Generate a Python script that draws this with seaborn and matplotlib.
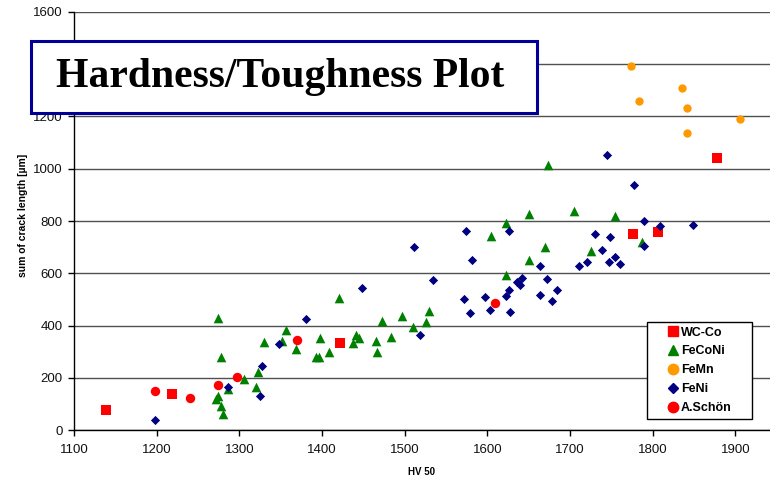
import matplotlib
matplotlib.use('Agg')
import matplotlib.pyplot as plt
from matplotlib.patches import Rectangle
from matplotlib.lines import Line2D
import seaborn as sns
import pandas as pd

# Hardness (HV 50) vs. crack length
wc_hv = [1139, 1219, 1422, 1776, 1807, 1878]
wc_crack = [79, 138, 333, 751, 757, 1039]

feconi_hv = [1274, 1278, 1274, 1272, 1278, 1280, 1286, 1306, 1320, 1323, 1330, 1352,
             1356, 1368, 1393, 1396, 1397, 1409, 1421, 1437, 1441, 1445, 1465, 1467,
             1473, 1484, 1497, 1510, 1526, 1530, 1604, 1623, 1623, 1650, 1650, 1670,
             1674, 1705, 1725, 1755, 1787]
feconi_crack = [428, 280, 131, 118, 93, 61, 157, 195, 164, 222, 338, 341,
                383, 311, 279, 279, 354, 301, 505, 335, 364, 352, 343, 301,
                419, 358, 438, 396, 415, 456, 743, 794, 594, 827, 651, 702,
                1013, 839, 684, 821, 721]

femn_hv = [1774, 1783, 1835, 1841, 1841, 1906]
femn_crack = [1393, 1259, 1310, 1231, 1138, 1189]

feni_hv = [1198, 1286, 1325, 1327, 1348, 1381, 1449, 1511, 1519, 1534, 1572, 1574,
           1579, 1582, 1597, 1603, 1623, 1626, 1626, 1627, 1636, 1639, 1642, 1664,
           1664, 1672, 1678, 1684, 1711, 1721, 1730, 1739, 1745, 1747, 1749, 1755,
           1761, 1777, 1789, 1790, 1809, 1849]
feni_crack = [38, 167, 131, 247, 330, 427, 545, 702, 366, 574, 503, 762,
              447, 650, 510, 460, 512, 762, 537, 454, 568, 556, 584, 627,
              517, 577, 493, 537, 628, 645, 751, 688, 1053, 644, 740, 663,
              636, 939, 799, 704, 782, 784]

schoen_hv = [1198, 1240, 1274, 1297, 1370, 1609]
schoen_crack = [151, 122, 172, 203, 344, 487]

# name, x, y, marker, colour, size
series = [
    ('WC-Co', wc_hv, wc_crack, 's', '#FF0000', 52),
    ('FeCoNi', feconi_hv, feconi_crack, '^', '#008000', 48),
    ('FeMn', femn_hv, femn_crack, 'o', '#FF9900', 36),
    ('FeNi', feni_hv, feni_crack, 'D', '#000080', 22),
    ('A.Schön', schoen_hv, schoen_crack, 'o', '#FF0000', 46),
]

sns.set_style('white')
plt.rcParams['font.family'] = ['Liberation Sans', 'DejaVu Sans']
plt.rcParams['text.color'] = 'black'
plt.rcParams['axes.labelcolor'] = 'black'
plt.rcParams['xtick.color'] = 'black'
plt.rcParams['ytick.color'] = 'black'

fig = plt.figure(figsize=(7.7, 4.8), dpi=100)
ax = fig.add_axes([74 / 770, 1 - 430.3 / 480, 1 - 74 / 770, (430.3 - 11.7) / 480])

for name, xs, ys, mk, col, sz in series:
    df = pd.DataFrame({'hv': xs, 'crack': ys})
    sns.scatterplot(data=df, x='hv', y='crack', marker=mk, color=col, s=sz,
                    linewidth=0, ax=ax, zorder=3)

ax.set_xlim(1100, 1942)
ax.set_ylim(0, 1600)
ax.set_xticks(range(1100, 2000, 100))
ax.set_yticks(range(0, 1800, 200))
ax.yaxis.grid(True, color='#505050', linewidth=1)
ax.set_axisbelow(True)
for s in ['top', 'right']:
    ax.spines[s].set_visible(False)
for s in ['left', 'bottom']:
    ax.spines[s].set_color('black')
    ax.spines[s].set_linewidth(1)
ax.tick_params(axis='both', direction='out', length=4, width=1, color='black',
               labelsize=9.5, labelcolor='#111111', bottom=True, left=True, pad=4)
ax.tick_params(axis='x', pad=6)

ax.set_xlabel('HV 50', fontsize=7, fontweight='bold', labelpad=8)
ax.set_ylabel('sum of crack length [µm]', fontsize=7.5, fontweight='bold')
ax.yaxis.set_label_coords(-0.066, 0.513)

# legend: frame drawn by hand so it can be wider than the entries
fig.add_artist(Rectangle((646.7 / 770, 1 - 419 / 480), 105 / 770, 97.3 / 480,
                         transform=fig.transFigure, facecolor='white',
                         edgecolor='black', linewidth=1, zorder=4))
handles = [Line2D([], [], linestyle='none', marker=mk, color=col,
                  markersize=(7.5 if mk != 'D' else 5.5))
           for name, xs, ys, mk, col, sz in series]
labels = [s[0] for s in series]
leg = fig.legend(handles, labels, loc='center', bbox_to_anchor=(700 / 770, 1 - 370.3 / 480),
                 frameon=False, prop={'weight': 'bold', 'size': 9},
                 handlelength=0.8, handletextpad=0.2, labelspacing=0.55, borderpad=0)
leg.set_zorder(5)

# title box
fig.add_artist(Rectangle((30.5 / 770, 1 - 113 / 480), 506.5 / 770, 72.3 / 480,
                         transform=fig.transFigure, facecolor='white',
                         edgecolor='#000099', linewidth=2.2, zorder=5))
fig.text(280 / 770, 1 - 77 / 480, 'Hardness/Toughness Plot', ha='center', va='center',
         fontsize=30, fontweight='bold', family='Liberation Serif', color='black', zorder=6)

fig.savefig('out.png', dpi=100)
